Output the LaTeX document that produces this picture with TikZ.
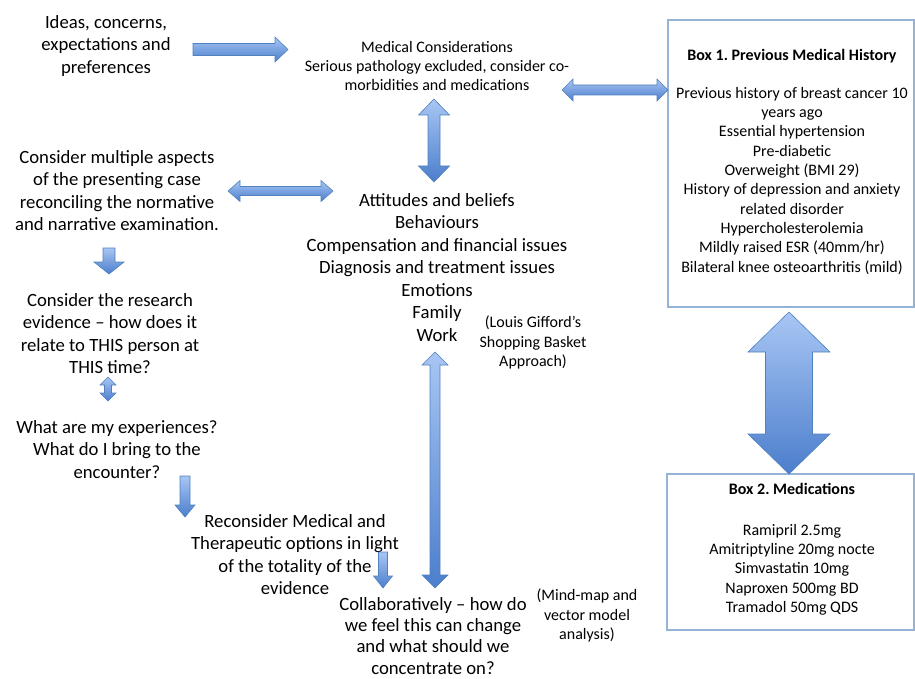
\documentclass[tikz,border=0pt]{standalone}
\usepackage{fontspec}
\setmainfont{Carlito}
\frenchspacing
\definecolor{arrowtop}{RGB}{168,198,244}
\definecolor{arrowbot}{RGB}{76,126,204}
\definecolor{arrowedge}{RGB}{79,129,189}
\definecolor{boxedge}{RGB}{149,179,215}
\tikzset{
  blockarrow/.style={top color=arrowtop, bottom color=arrowbot, draw=arrowedge, line width=0.6pt, line join=miter},
  bigtext/.style={font=\fontsize{18.7}{22.5}\selectfont, align=center, inner sep=0pt, anchor=north},
  smalltext/.style={font=\fontsize{16}{19.3}\selectfont, align=center, inner sep=0pt, anchor=north},
  boldtext/.style={smalltext, font=\fontsize{16}{19.3}\selectfont\bfseries},
  infobox/.style={draw=boxedge, line width=1.1pt}
}
% horizontal double-headed block arrow: x1, x2, y, shaft half, head half, head length
\newcommand\dblArrowH[6]{%
  \path[blockarrow] (#1,#3) -- (#1+#6,#3-#5) -- (#1+#6,#3-#4) -- (#2-#6,#3-#4) -- (#2-#6,#3-#5)
    -- (#2,#3) -- (#2-#6,#3+#5) -- (#2-#6,#3+#4) -- (#1+#6,#3+#4) -- (#1+#6,#3+#5) -- cycle;}
% vertical double-headed block arrow: x, y1 (top), y2 (bottom), shaft half, head half, head length
\newcommand\dblArrowV[6]{%
  \path[blockarrow] (#1,#2) -- (#1+#5,#2+#6) -- (#1+#4,#2+#6) -- (#1+#4,#3-#6) -- (#1+#5,#3-#6)
    -- (#1,#3) -- (#1-#5,#3-#6) -- (#1-#4,#3-#6) -- (#1-#4,#2+#6) -- (#1-#5,#2+#6) -- cycle;}
% right-pointing block arrow: x1, x2 (tip), y, shaft half, head half, head length
\newcommand\oneArrowR[6]{%
  \path[blockarrow] (#1,#3-#4) -- (#2-#6,#3-#4) -- (#2-#6,#3-#5) -- (#2,#3)
    -- (#2-#6,#3+#5) -- (#2-#6,#3+#4) -- (#1,#3+#4) -- cycle;}
% downward block arrow: x, y1 (top), y2 (tip), shaft half, head half, head length
\newcommand\oneArrowD[6]{%
  \path[blockarrow] (#1-#4,#2) -- (#1+#4,#2) -- (#1+#4,#3-#6) -- (#1+#5,#3-#6) -- (#1,#3)
    -- (#1-#5,#3-#6) -- (#1-#4,#3-#6) -- cycle;}
\begin{document}
\begin{tikzpicture}[x=1pt,y=-1pt]
\useasboundingbox (0,0) rectangle (915,679);

% left column
\node[bigtext] (ideas) at (106,15) {Ideas, concerns,\\expectations and\\preferences};
\node[bigtext] (aspects) at (117,150) {Consider multiple aspects\\of the presenting case\\reconciling the normative\\and narrative examination.};
\node[bigtext] (research) at (110,293) {Consider the research\\evidence -- how does it\\relate to THIS person at\\THIS time?};
\node[bigtext] (experience) at (117,420) {What are my experiences?\\What do I bring to the\\encounter?};
\node[bigtext] (reconsider) at (295,514) {Reconsider Medical and\\Therapeutic options in light\\of the totality of the\\evidence};

% centre column
\node[smalltext] (medical) at (437,41) {Medical Considerations\\Serious pathology excluded, consider co-\\morbidities and medications};
\node[bigtext] (basket) at (437,193) {Attitudes and beliefs\\Behaviours\\Compensation and financial issues\\Diagnosis and treatment issues\\Emotions\\Family\\Work};
\node[smalltext] (gifford) at (533,316) {(Louis Gifford’s\\Shopping Basket\\Approach)};
\node[bigtext, font=\fontsize{18.7}{21.3}\selectfont] (collab) at (433,597) {Collaboratively -- how do\\we feel this can change\\and what should we\\concentrate on?};
\node[smalltext] (mindmap) at (587,589) {(Mind-map and\\vector model\\analysis)};

% right column boxes
\draw[infobox] (668,20) rectangle (914,307);
\node[boldtext] (boxonetitle) at (792,49) {Box 1. Previous Medical History};
\node[smalltext] (boxone) at (792,87) {Previous history of breast cancer 10\\years ago\\Essential hypertension\\Pre-diabetic\\Overweight (BMI 29)\\History of depression and anxiety\\related disorder\\Hypercholesterolemia\\Mildly raised ESR (40mm/hr)\\Bilateral knee osteoarthritis (mild)};
\draw[infobox] (667,474) rectangle (914,630);
\node[boldtext] (boxtwotitle) at (792,483) {Box 2. Medications};
\node[smalltext] (boxtwo) at (792,524) {Ramipril 2.5mg\\Amitriptyline 20mg nocte\\Simvastatin 10mg\\Naproxen 500mg BD\\Tramadol 50mg QDS};

% block arrows
\oneArrowR{193}{288}{49.5}{6}{12.5}{13}
\dblArrowV{434}{99}{182}{6}{15.5}{16}
\dblArrowH{562}{668}{90}{5}{11}{11}
\dblArrowH{228}{333}{191}{4.5}{10.5}{12}
\oneArrowD{109}{248}{274}{6}{15}{12}
\dblArrowV{108}{377}{401}{3.5}{8}{8}
\oneArrowD{185}{476}{517}{5}{10}{12}
\oneArrowD{383}{552}{588}{4.5}{9.5}{12}
\dblArrowV{435}{352}{588}{5}{13}{13}
\dblArrowV{789}{312}{474}{23.5}{41}{40}
\end{tikzpicture}
\end{document}
